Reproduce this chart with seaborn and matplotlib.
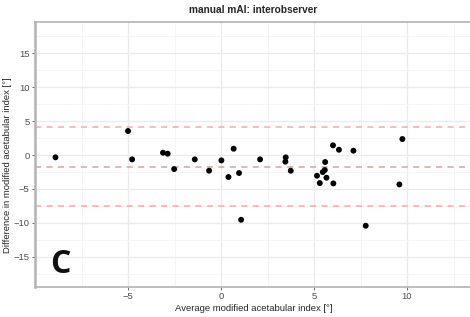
import numpy as np
import pandas as pd
import matplotlib
matplotlib.use("Agg")
import matplotlib.pyplot as plt
from matplotlib.ticker import MultipleLocator
import seaborn as sns

# Bland-Altman data
avg_mai = [-8.90, -4.78, -5.00, -3.12, -2.87, -2.52, -1.41, -0.64, 0.02, 0.40,
           0.68, 0.97, 1.08, 2.10, 3.48, 3.46, 3.75, 5.16, 5.31, 5.47,
           5.58, 5.60, 5.67, 6.02, 6.04, 6.34, 7.12, 7.78, 9.59, 9.75]
diff_mai = [-0.34, -0.64, 3.54, 0.34, 0.20, -2.07, -0.64, -2.31, -0.79, -3.24,
            0.93, -2.65, -9.54, -0.64, -0.34, -0.98, -2.31, -3.05, -4.13, -2.51,
            -2.21, -1.03, -3.34, 1.43, -4.18, 0.78, 0.64, -10.42, -4.33, 2.36]
mean_diff = -1.70
upper_loa = 4.09
lower_loa = -7.52

df = pd.DataFrame({"avg": avg_mai, "diff": diff_mai})

sns.set_theme(style="white")
plt.rcParams['font.family'] = ['Liberation Sans', 'DejaVu Sans']

fig = plt.figure(figsize=(4.70, 3.17), dpi=100)
ax = fig.add_axes([0.0745, 0.0956, 0.93, 0.836])

# grid like ggplot theme_bw
ax.xaxis.set_major_locator(MultipleLocator(5))
ax.xaxis.set_minor_locator(MultipleLocator(2.5))
ax.yaxis.set_major_locator(MultipleLocator(5))
ax.yaxis.set_minor_locator(MultipleLocator(2.5))
ax.grid(which="major", color="#ebebeb", linewidth=1.0)
ax.grid(which="minor", color="#f4f4f4", linewidth=0.6)
ax.set_axisbelow(True)

ax.axhline(upper_loa, color="#ffa6a6", linestyle=(0, (4, 3.5)), linewidth=1.1)
ax.axhline(mean_diff, color="#d9a3a3", linestyle=(0, (4, 3.5)), linewidth=1.1)
ax.axhline(lower_loa, color="#ffa6a6", linestyle=(0, (4, 3.5)), linewidth=1.1)

sns.scatterplot(data=df, x="avg", y="diff", ax=ax, color="black", s=18,
                edgecolor="none", zorder=3)

ax.set_xlim(-10.0, 13.5)
ax.set_ylim(-19.4, 19.65)

for side in ["left", "bottom", "top"]:
    ax.spines[side].set_color("#b3b3b3")
    ax.spines[side].set_linewidth(1.2)
ax.spines["right"].set_visible(False)
ax.spines["left"].set_linewidth(1.8)

ax.tick_params(axis="both", which="major", length=2, width=0.6, color="#555555",
               labelsize=6.8, labelcolor="#4d4d4d", pad=2, left=True, bottom=True)
ax.tick_params(axis="both", which="minor", length=0)
ax.set_xticks([-5, 0, 5, 10])
ax.set_yticks([-15, -10, -5, 0, 5, 10, 15])

ax.set_xlabel("Average modified acetabular index [°]", fontsize=6.8, labelpad=2)
ax.set_ylabel("Difference in modified acetabular index [°]", fontsize=6.8)
ax.yaxis.set_label_coords(-0.053, 0.459)
ax.set_title("manual mAI: interobserver", fontsize=7.3, fontweight="bold", pad=6)

ax.text(0.035, 0.084, "C", transform=ax.transAxes, fontsize=23,
        fontweight="bold", family=["Open Sans", "DejaVu Sans"], color="#111111",
        ha="left", va="center")

fig.savefig("out.png", dpi=100)
